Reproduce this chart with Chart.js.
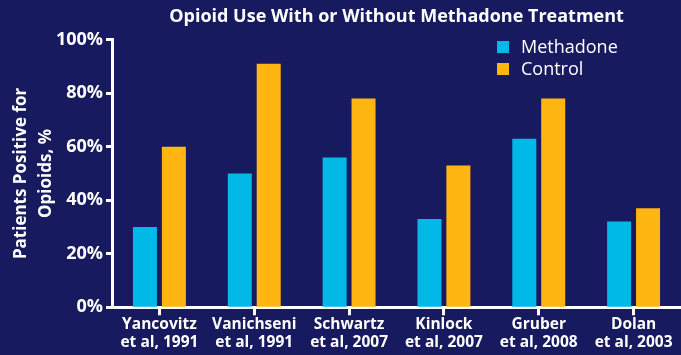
<!DOCTYPE html>
<html>
<head>
<meta charset="utf-8">
<script src="https://cdn.jsdelivr.net/npm/chart.js@4.4.1/dist/chart.umd.min.js"></script>
<style>
    html, body { margin: 0; padding: 0; background: #171a5e; }
    #wrap { width: 681px; height: 355px; }
</style>
</head>
<body>
<div id="wrap"><canvas id="barChartCanvas" width="681" height="355"></canvas></div>
<script>
let studies = [
    ['Yancovitz', 'et al, 1991'],
    ['Vanichseni', 'et al, 1991'],
    ['Schwartz', 'et al, 2007'],
    ['Kinlock', 'et al, 2007'],
    ['Gruber', 'et al, 2008'],
    ['Dolan', 'et al, 2003']
];
let methadone = [30, 50, 56, 33, 63, 32];
let control = [60, 91, 78, 53, 78, 37];
let yTicks = [0, 20, 40, 60, 80, 100];

let fontFamily = '"Open Sans", Lato, sans-serif';

// legend drawn top right inside the plot, one row per dataset
let sideLegend = {
    id: 'sideLegend',
    afterDraw: function (chart) {
        let ctx = chart.ctx;
        ctx.save();
        ctx.font = '18px ' + fontFamily;
        ctx.textBaseline = 'middle';
        chart.data.datasets.forEach(function (ds, i) {
            let y = 47 + i * 22;
            ctx.fillStyle = ds.backgroundColor;
            ctx.fillRect(497, y - 6, 12, 12);
            ctx.fillStyle = '#ffffff';
            ctx.fillText(ds.label, 521, y + 1);
        });
        ctx.restore();
    }
};

let barChartDraw = function () {
    let ctx = document.getElementById('barChartCanvas').getContext('2d');

    window.barChart = new Chart(ctx, {
        type: 'bar',
        data: {
            labels: studies,
            datasets: [{
                label: 'Methadone',
                data: methadone,
                backgroundColor: '#00b9e6'
            }, {
                label: 'Control',
                data: control,
                backgroundColor: '#ffb612'
            }]
        },
        options: {
            responsive: false,
            animation: false,
            categoryPercentage: 0.61,
            barPercentage: 0.83,
            layout: { padding: { top: 0, right: 0, bottom: 3, left: 9 } },
            plugins: {
                legend: { display: false },
                tooltip: { enabled: false },
                title: {
                    display: true,
                    text: 'Opioid Use With or Without Methadone Treatment',
                    color: '#ffffff',
                    fullSize: false,
                    font: { family: fontFamily, size: 18, weight: 'bold' },
                    padding: { top: 6, bottom: 12 }
                }
            },
            scales: {
                x: {
                    border: { color: '#ffffff', width: 3 },
                    grid: {
                        offset: false,
                        drawOnChartArea: false,
                        tickLength: 8,
                        tickColor: '#ffffff',
                        tickWidth: 3
                    },
                    ticks: {
                        color: '#ffffff',
                        maxRotation: 0,
                        autoSkip: false,
                        padding: 1,
                        font: { family: fontFamily, size: 15.5, weight: 'bold', lineHeight: 1.12 }
                    }
                },
                y: {
                    min: 0,
                    max: 100,
                    afterBuildTicks: function (scale) {
                        scale.ticks = yTicks.map(function (v) { return { value: v }; });
                    },
                    afterFit: function (scale) {
                        scale.width = 103;
                    },
                    border: { color: '#ffffff', width: 3 },
                    grid: {
                        drawOnChartArea: false,
                        tickLength: 6,
                        tickColor: '#ffffff',
                        tickWidth: 3
                    },
                    ticks: {
                        color: '#ffffff',
                        padding: 3,
                        font: { family: fontFamily, size: 18, weight: 'bold' },
                        callback: function (v) { return v + '%'; }
                    },
                    title: {
                        display: true,
                        text: ['Patients Positive for', 'Opioids, %'],
                        color: '#ffffff',
                        padding: { top: 0, bottom: 2 },
                        font: { family: fontFamily, size: 17, weight: 'bold', lineHeight: 1.45 }
                    }
                }
            }
        },
        plugins: [sideLegend]
    });
};

window.onload = function () {
    barChartDraw();
};
</script>
</body>
</html>
